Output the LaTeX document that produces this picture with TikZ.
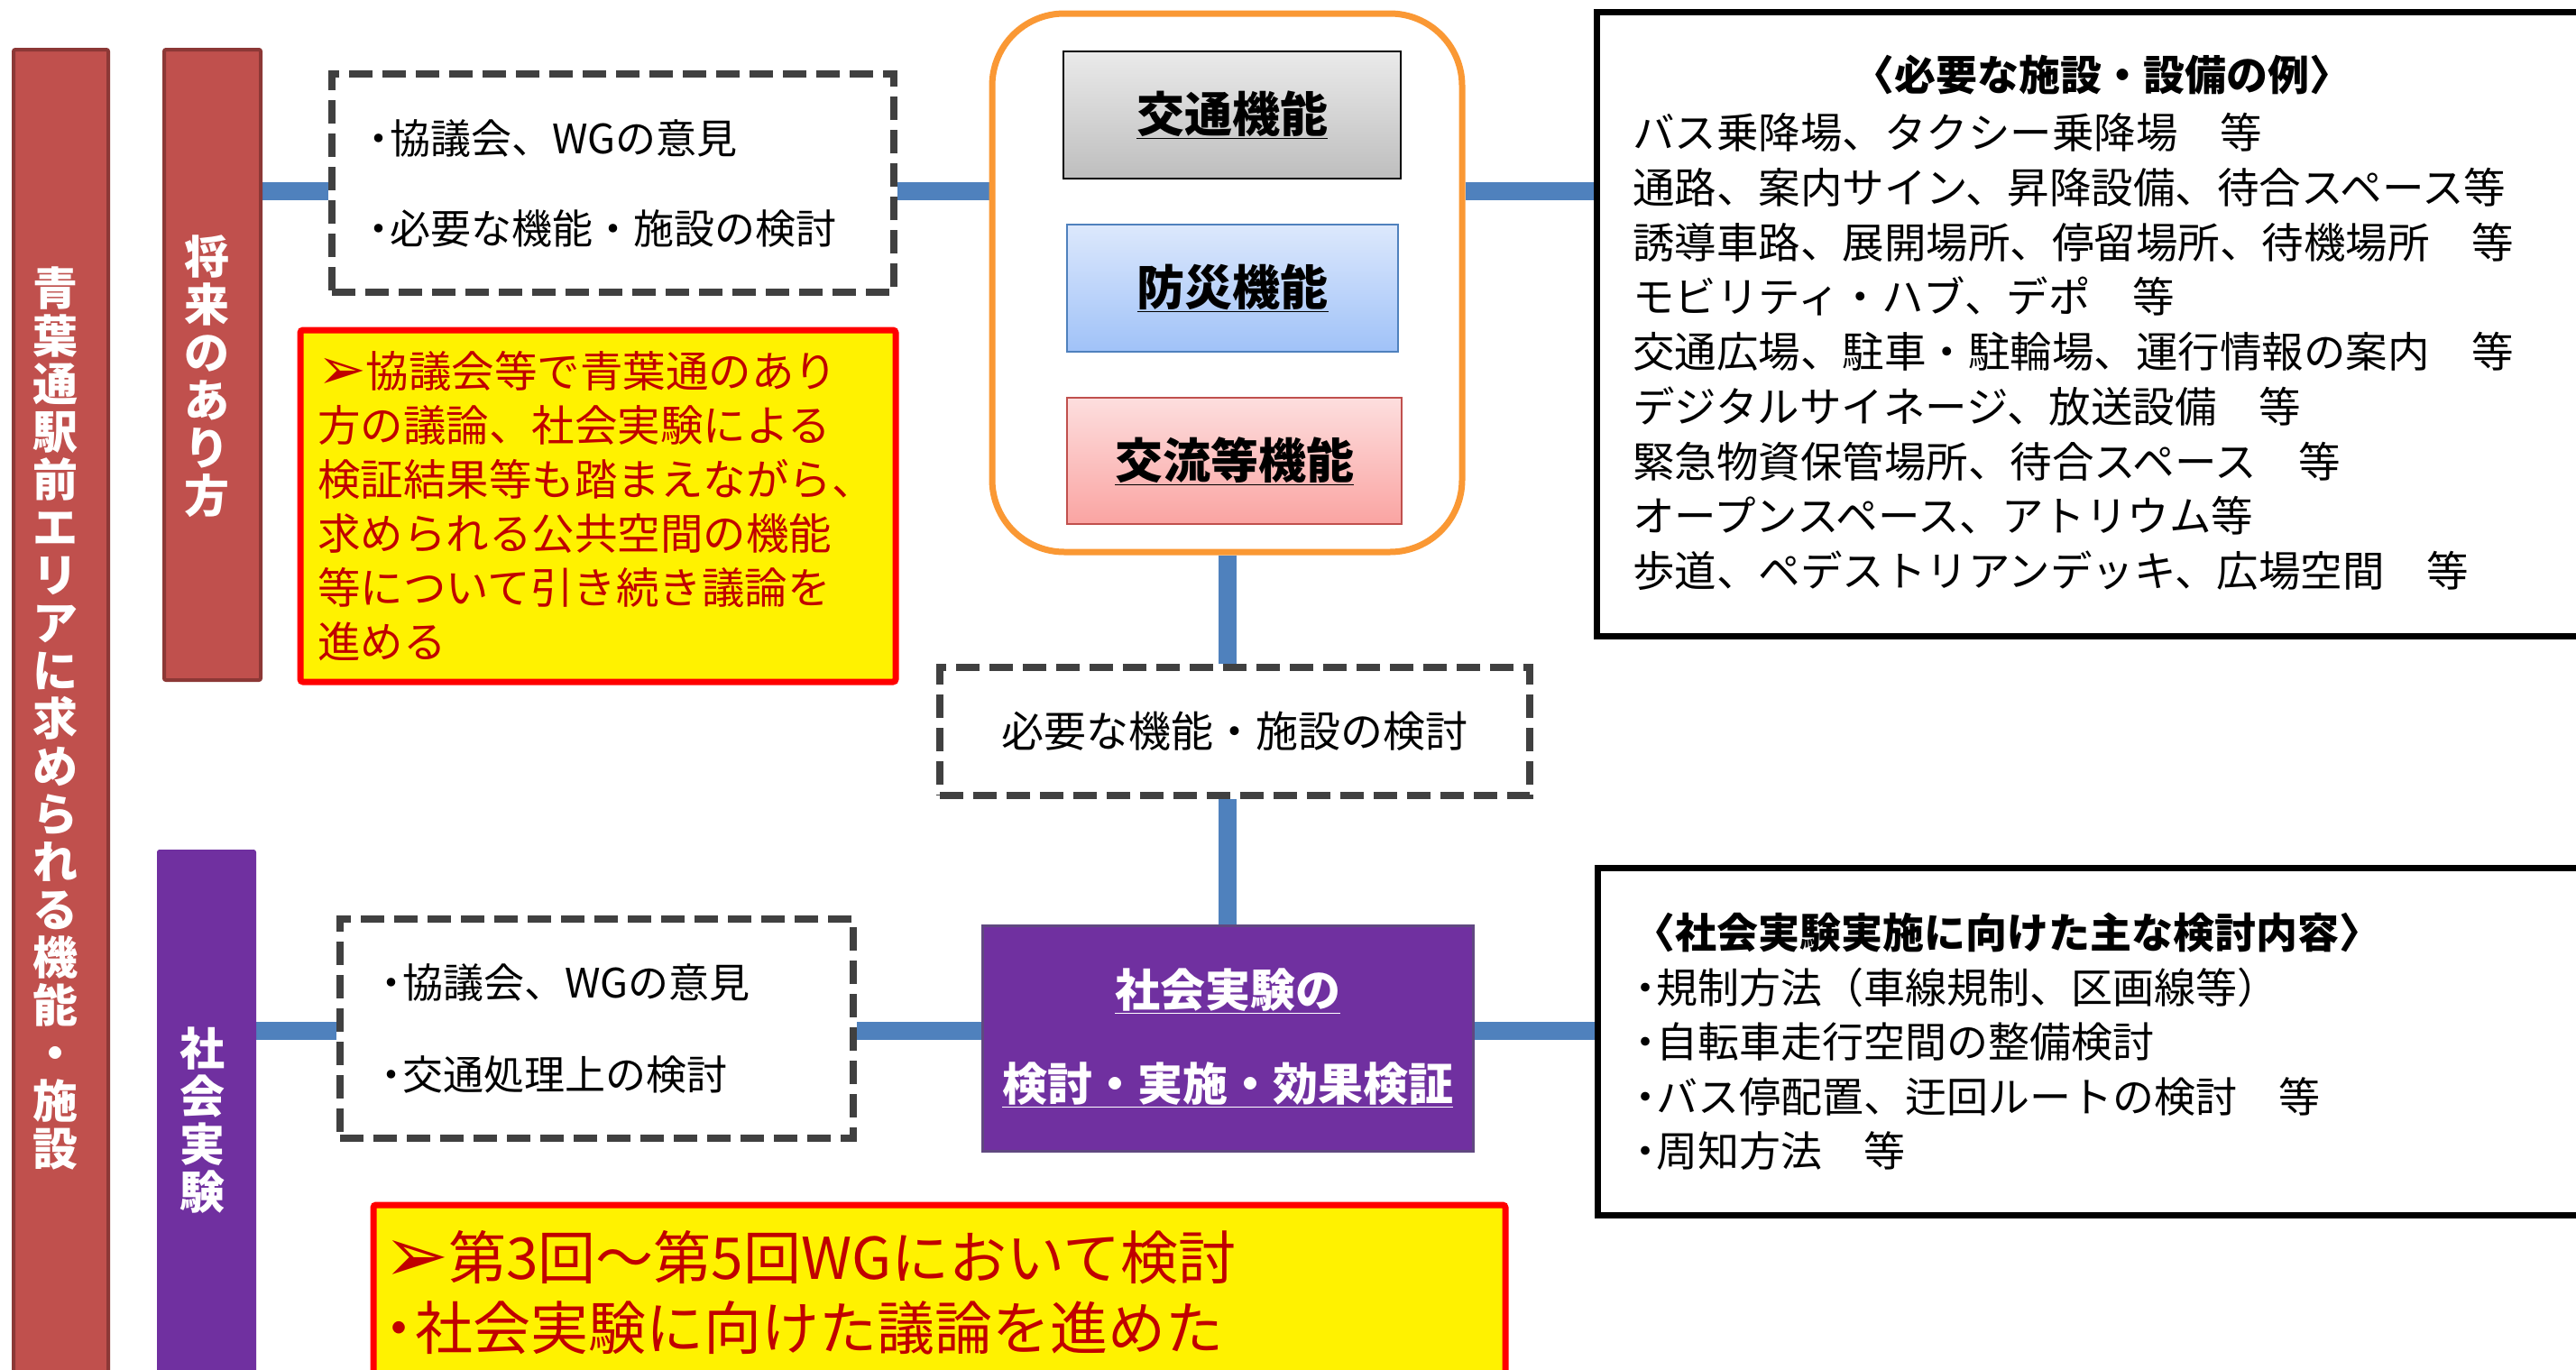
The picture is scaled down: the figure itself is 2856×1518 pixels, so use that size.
\documentclass[tikz,border=0pt]{standalone}
\usepackage{fontspec}
\setmainfont{Noto Sans CJK JP}
\newfontfamily\dv{DejaVu Sans}
\usetikzlibrary{calc,backgrounds}
\definecolor{barred}{RGB}{192,80,77}
\definecolor{baredge}{RGB}{140,56,54}
\definecolor{purp}{RGB}{112,48,160}
\definecolor{purpedge}{RGB}{96,72,128}
\definecolor{connblue}{RGB}{79,129,189}
\definecolor{dgray}{RGB}{64,64,64}
\definecolor{orng}{RGB}{250,152,52}
\definecolor{dred}{RGB}{192,0,0}
\definecolor{ftop1}{RGB}{234,234,234}
\definecolor{fbot1}{RGB}{190,190,190}
\definecolor{ftop2}{RGB}{220,232,252}
\definecolor{fbot2}{RGB}{160,194,248}
\definecolor{fedge2}{RGB}{79,129,189}
\definecolor{ftop3}{RGB}{253,222,222}
\definecolor{fbot3}{RGB}{250,164,162}
\definecolor{fedge3}{RGB}{192,80,77}
\newcommand{\arr}{\raisebox{-0.05em}{\scalebox{1.35}{\dv ➢}}}
\newcommand{\nbul}{\hspace{-0.22em}・\hspace{-0.22em}}
\tikzset{
  redbar/.style={draw=baredge, fill=barred, line width=4pt, rounded corners=2pt, inner sep=0pt},
  purbar/.style={draw=purp, fill=purp, line width=2pt, rounded corners=2pt, inner sep=0pt},
  vtext/.style={inner sep=0pt, text=white, align=center, font=\bfseries\fontsize{50}{53}\selectfont},
  dbox/.style={draw=dgray, fill=white, line width=8pt, dash pattern=on 26pt off 11pt, inner ysep=0pt},
  ybox/.style={draw=red, fill=yellow, line width=7pt, rounded corners=3pt, text=dred, inner ysep=0pt, align=left},
  fbox/.style={line width=2.5pt, inner sep=0pt, font=\bfseries\fontsize{53}{60}\selectfont},
  whitebox/.style={fill=white, inner sep=0pt},
  openframe/.style={draw=black, line width=7pt},
  conn/.style={draw=connblue, line width=20pt},
  plain/.style={inner sep=0pt, align=left}
}
\begin{document}
\begin{tikzpicture}[x=1pt,y=-1pt]
\useasboundingbox (0,0) rectangle (2856,1518);
\begin{scope}
\clip (0,0) rectangle (2856,1518);
% bars
\node[redbar, minimum width=105, minimum height=1475] (barL) at (67.5,792.5) {};
\node[vtext] (barLt) at (61,796)
  {青\\葉\\通\\駅\\前\\エ\\リ\\ア\\に\\求\\め\\ら\\れ\\る\\機\\能\\・\\施\\設};
\node[redbar, minimum width=107, minimum height=699] (bar2) at (235.5,404.5) {};
\node[vtext] (bar2t) at (229,417) {将\\来\\の\\あ\\り\\方};
\node[purbar, minimum width=108, minimum height=587] (bar3) at (229,1236.5) {};
\node[vtext] (bar3t) at (224,1242) {社\\会\\実\\験};
% upper dashed box
\node[dbox, minimum width=623, minimum height=242, text width=545, inner xsep=39, align=left,
  font=\fontsize{45}{100}\selectfont] (dash1) at (679.5,203)
  {\nbul 協議会、WGの意見\\\nbul 必要な機能・施設の検討};
% yellow box 1
\node[ybox, minimum width=660, minimum height=390, text width=622, inner xsep=19,
  font=\fontsize{47.5}{60}\selectfont] (yel1) at (663,561)
  {\arr 協議会等で青葉通のあり\\方の議論、社会実験による\\検証結果等も踏まえながら、\\求められる公共空間の機能\\等について引き続き議論を\\進める};
% orange group
\node[draw=orng, line width=7pt, rounded corners=80pt, fill=white, minimum width=521, minimum height=597] (grp) at (1360.5,313.5) {};
\node[fbox, draw=black, top color=ftop1, bottom color=fbot1, minimum width=374, minimum height=141] (f1) at (1366,127.5) {\underline{交通機能}};
\node[fbox, draw=fedge2, top color=ftop2, bottom color=fbot2, minimum width=367, minimum height=141] (f2) at (1366.5,319.5) {\underline{防災機能}};
\node[fbox, draw=fedge3, top color=ftop3, bottom color=fbot3, minimum width=371, minimum height=140] (f3) at (1368.5,511) {\underline{交流等機能}};
% right box 1 (cut by the right page edge)
\node[whitebox, minimum width=1085, minimum height=691] (right1) at (2313.5,359.5) {};
\draw[openframe] (right1.north east) -- (right1.north west) -- (right1.south west) -- (right1.south east);
\node[plain, font=\bfseries\fontsize{46}{50}\selectfont] (hd1) at (2330,83) {〈必要な施設・設備の例〉};
\node[plain, anchor=west, font=\fontsize{46.5}{60.75}\selectfont] (list1) at (1810,390)
  {バス乗降場、タクシー乗降場　等\\
   通路、案内サイン、昇降設備、待合スペース等\\
   誘導車路、展開場所、停留場所、待機場所　等\\
   モビリティ・ハブ、デポ　等\\
   交通広場、駐車・駐輪場、運行情報の案内　等\\
   デジタルサイネージ、放送設備　等\\
   緊急物資保管場所、待合スペース　等\\
   オープンスペース、アトリウム等\\
   歩道、ペデストリアンデッキ、広場空間　等};
% middle dashed box
\node[dbox, minimum width=654, minimum height=142, inner xsep=0pt, font=\fontsize{47}{50}\selectfont] (dash3) at (1369,811) {必要な機能・施設の検討};
% lower dashed box
\node[dbox, minimum width=569, minimum height=243, text width=481, inner xsep=44, align=left,
  font=\fontsize{45}{102}\selectfont] (dash2) at (661.5,1140.5)
  {\nbul 協議会、WGの意見\\\nbul 交通処理上の検討};
% purple box
\node[draw=purpedge, fill=purp, line width=3pt, minimum width=544, minimum height=250, inner sep=0pt,
  text=white, align=center, font=\bfseries\fontsize{50}{104}\selectfont] (purple) at (1361,1151)
  {\underline{社会実験の}\\\underline{検討・実施・効果検証}};
% right box 2 (cut by the right page edge)
\node[whitebox, minimum width=1084, minimum height=384] (right2) at (2314,1155) {};
\draw[openframe] (right2.north east) -- (right2.north west) -- (right2.south west) -- (right2.south east);
\node[plain, anchor=west, font=\fontsize{46}{60.5}\selectfont] (list2) at (1811,1155)
  {{\bfseries 〈社会実験実施に向けた主な検討内容〉}\\
   \nbul 規制方法（車線規制、区画線等）\\
   \nbul 自転車走行空間の整備検討\\
   \nbul バス停配置、迂回ルートの検討　等\\
   \nbul 周知方法　等};
% yellow box 2
\node[ybox, minimum width=1255, minimum height=194, text width=1233, inner xsep=11,
  font=\fontsize{64}{78}\selectfont] (yel2) at (1041.5,1433)
  {\arr 第3回～第5回WGにおいて検討\\\nbul 社会実験に向けた議論を進めた};
\end{scope}
% connectors
\coordinate (ya) at (0,212);
\coordinate (yb) at (0,1143);
\begin{pgfonlayer}{background}
\fill[white] (0,0) rectangle (2856,1518);
\draw[conn] (bar2.east |- ya) -- (dash1.west |- ya);
\draw[conn] (dash1.east |- ya) -- (grp.west |- ya);
\draw[conn] (grp.east |- ya) -- (right1.west |- ya);
\draw[conn] (grp.south) -- (grp.south |- dash3.north);
\draw[conn] (grp.south |- dash3.south) -- (grp.south |- purple.north);
\draw[conn] (bar3.east |- yb) -- (dash2.west |- yb);
\draw[conn] (dash2.east |- yb) -- (purple.west |- yb);
\draw[conn] (purple.east |- yb) -- (right2.west |- yb);
\end{pgfonlayer}
\end{tikzpicture}
\end{document}
